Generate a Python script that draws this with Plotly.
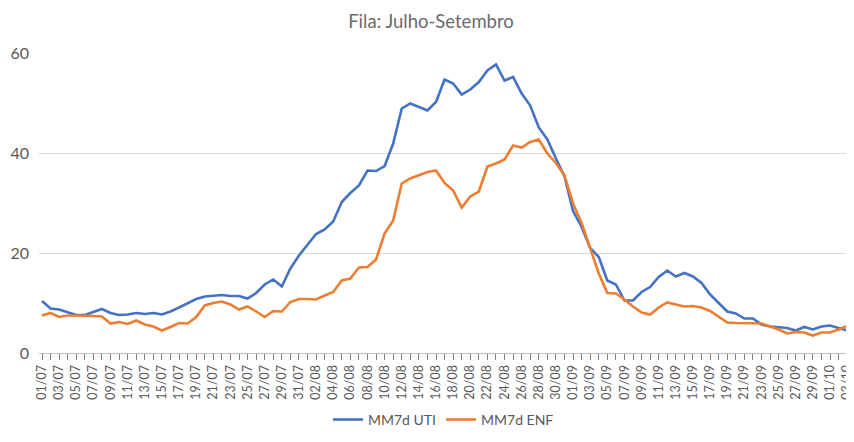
import pandas as pd
import plotly.graph_objects as go

# Categories: daily dates 01/07 .. 03/10
dates = [d.strftime("%d/%m") for d in pd.date_range("2020-07-01", "2020-10-03", freq="D")]

uti = [10.4, 8.9, 8.7, 8.1, 7.6, 7.6, 8.2, 8.8, 8.0, 7.6,
       7.7, 8.0, 7.8, 8.0, 7.7, 8.3, 9.1, 9.9, 10.8, 11.3,
       11.5, 11.6, 11.4, 11.4, 10.9, 12.0, 13.7, 14.7, 13.3, 16.9,
       19.5, 21.7, 23.8, 24.7, 26.3, 30.2, 32.0, 33.5, 36.5, 36.4,
       37.4, 41.9, 48.9, 49.9, 49.2, 48.5, 50.2, 54.7, 53.9, 51.7,
       52.7, 54.2, 56.5, 57.7, 54.5, 55.2, 51.9, 49.5, 45.1, 42.7,
       38.9, 35.3, 28.4, 25.2, 21.0, 19.2, 14.5, 13.7, 10.5, 10.5,
       12.2, 13.2, 15.2, 16.5, 15.3, 16.0, 15.3, 14.0, 11.7, 10.0,
       8.3, 7.9, 6.9, 6.9, 5.7, 5.3, 5.1, 5.0, 4.5, 5.2,
       4.7, 5.3, 5.5, 5.0, 4.5]

enf = [7.5, 8.0, 7.2, 7.5, 7.5, 7.5, 7.4, 7.3, 5.9, 6.2,
       5.8, 6.5, 5.7, 5.3, 4.5, 5.2, 6.0, 5.9, 7.2, 9.5,
       10.0, 10.3, 9.7, 8.7, 9.3, 8.3, 7.2, 8.4, 8.3, 10.2,
       10.8, 10.8, 10.7, 11.5, 12.2, 14.5, 14.9, 17.1, 17.2, 18.7,
       23.9, 26.5, 33.9, 34.9, 35.5, 36.2, 36.5, 34.0, 32.5, 29.1,
       31.3, 32.3, 37.3, 37.9, 38.7, 41.5, 41.1, 42.2, 42.7, 39.9,
       38.0, 35.5, 29.9, 26.0, 21.0, 15.9, 12.0, 11.9, 10.7, 9.3,
       8.1, 7.7, 9.1, 10.1, 9.7, 9.3, 9.4, 9.1, 8.4, 7.2,
       6.1, 6.0, 6.0, 6.0, 5.9, 5.3, 4.7, 3.9, 4.2, 4.1,
       3.5, 4.1, 4.1, 4.7, 5.4]

tick_text = [d if i % 2 == 0 else "" for i, d in enumerate(dates)]

FONT = "Lato, Open Sans, sans-serif"
GRAY = "#595959"

fig = go.Figure()
fig.add_trace(go.Scatter(x=dates, y=uti, mode="lines", name="MM7d UTI",
                         line=dict(color="#4472C4", width=2.6)))
fig.add_trace(go.Scatter(x=dates, y=enf, mode="lines", name="MM7d ENF",
                         line=dict(color="#ED7D31", width=2.6)))

# page body has an 8px default margin, so the figure is 846x434
fig.update_layout(
    width=846, height=434,
    margin=dict(l=31, r=0, t=45, b=89),
    paper_bgcolor="white", plot_bgcolor="white",
    title=dict(text="Fila: Julho-Setembro", x=0.5, xanchor="center",
               y=0.968, yanchor="middle",
               font=dict(family=FONT, size=18.5, color="#6b6b6b")),
    font=dict(family=FONT, color=GRAY),
    legend=dict(orientation="h", x=0.5, xanchor="center", y=-0.223, yanchor="middle",
                font=dict(family=FONT, size=14, color=GRAY)),
    showlegend=True,
)

fig.update_xaxes(
    type="category",
    range=[-0.35, 94.1],
    tickmode="array", tickvals=dates, ticktext=tick_text,
    tickangle=-90,
    ticks="outside", ticklen=6, tickcolor="#7f7f7f", tickwidth=1,
    showline=True, linecolor="#bfbfbf", linewidth=1,
    showgrid=False, zeroline=False,
    tickfont=dict(family=FONT, size=12.5, color=GRAY),
)
fig.update_yaxes(
    range=[0, 60], tickvals=[0, 20, 40, 60],
    showgrid=True, gridcolor="#d9d9d9", gridwidth=1,
    zeroline=False, showline=False, ticks="",
    ticklabelstandoff=9,
    tickfont=dict(family=FONT, size=16, color=GRAY),
)

fig.write_html("out.html")
